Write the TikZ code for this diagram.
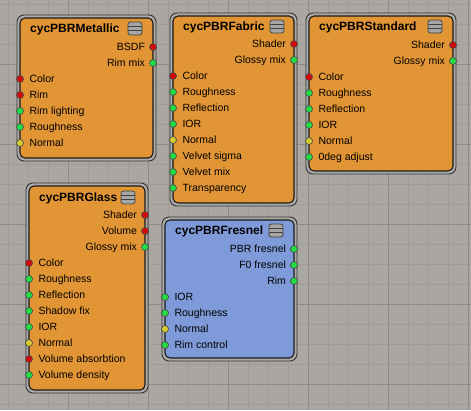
\documentclass[tikz,border=0pt]{standalone}
\usepackage{fontspec}
\setmainfont{Liberation Sans}
\usetikzlibrary{positioning}

\definecolor{canvas}{HTML}{AAA7A3}
\definecolor{minorline}{HTML}{9F9C98}
\definecolor{majorline}{HTML}{8E8B88}
\definecolor{shaderorange}{HTML}{E29535}
\definecolor{groupblue}{HTML}{7F9AD8}
\definecolor{rimgray}{HTML}{ADABA9}
\definecolor{sred}{HTML}{D40A0A}
\definecolor{sgreen}{HTML}{22DD44}
\definecolor{syellow}{HTML}{D8CC2C}

\begin{document}
\begin{tikzpicture}[
  x=1pt, y=-1pt,
  minor/.style={minorline, line width=0.8pt},
  major/.style={majorline, line width=0.9pt},
  frame/.style={draw=black!80, fill=rimgray, line width=0.9pt, rounded corners=7pt},
  panel/.style={draw=black!90, line width=1.1pt, rounded corners=5pt},
  title/.style={anchor=west, inner sep=0, text height=8.6pt, text depth=0pt, font=\fontsize{12}{12}\selectfont\bfseries},
  icon/.style={draw=black!75, fill=black!35, line width=0.8pt, rounded corners=2.5pt, minimum width=14pt, minimum height=13pt, inner sep=0,
    path picture={\draw[black!75, line width=0.8pt] ([yshift=-4.3pt]path picture bounding box.north west) -- ++(14pt,0pt)
                  ([yshift=4.3pt]path picture bounding box.south west) -- ++(14pt,0pt);}},
  sock/.style={circle, draw=black!70, line width=0.7pt, minimum size=7pt, inner sep=0},
  lbl/.style={inner sep=0, text height=7.5pt, text depth=0pt, font=\fontsize{10.5}{10.5}\selectfont}
]
\useasboundingbox (0,0) rectangle (471,410);
\fill[canvas] (0,0) rectangle (471,410);
\foreach \gx in {8,28,...,468} \draw[minor] (\gx,0) -- (\gx,410);
\foreach \gy in {4,24,...,404} \draw[minor] (0,\gy) -- (471,\gy);
\foreach \gx in {68,148,...,468} \draw[major] (\gx,0) -- (\gx,410);
\foreach \gy in {64,144,...,384} \draw[major] (0,\gy) -- (471,\gy);

% cycPBRMetallic
\draw[frame] (17,15) rectangle (156,161);
\draw[panel, fill=shaderorange] (20,18) rectangle (153,158);
\node[title] (metTitle) at (30,28) {cycPBRMetallic};
\node[icon] (metIcon) at (135,28.5) {};
\foreach \lab/\sc [count=\i] in {BSDF/sred, Rim mix/sgreen} {
  \node[sock, fill=\sc] (metOut\i) at (153,31+16*\i) {};
  \node[lbl, left=4pt of metOut\i] (metOutLbl\i) {\lab};
}
\foreach \lab/\sc [count=\i] in {Color/sred, Rim/sred, Rim lighting/sgreen, Roughness/sgreen, Normal/syellow} {
  \node[sock, fill=\sc] (metIn\i) at (20,63+16*\i) {};
  \node[lbl, right=5.5pt of metIn\i] (metInLbl\i) {\lab};
}

% cycPBRFabric
\draw[frame] (170,13) rectangle (297,206);
\draw[panel, fill=shaderorange] (173,16) rectangle (294,203);
\node[title] (fabTitle) at (183,26) {cycPBRFabric};
\node[icon] (fabIcon) at (277,26.5) {};
\foreach \lab/\sc [count=\i] in {Shader/sred, Glossy mix/sgreen} {
  \node[sock, fill=\sc] (fabOut\i) at (294,28+16*\i) {};
  \node[lbl, left=4pt of fabOut\i] (fabOutLbl\i) {\lab};
}
\foreach \lab/\sc [count=\i] in {Color/sred, Roughness/sgreen, Reflection/sgreen, IOR/sgreen, Normal/syellow, Velvet sigma/sgreen, Velvet mix/sgreen, Transparency/sgreen} {
  \node[sock, fill=\sc] (fabIn\i) at (173,60+16*\i) {};
  \node[lbl, right=5.5pt of fabIn\i] (fabInLbl\i) {\lab};
}

% cycPBRStandard
\draw[frame] (306,13) rectangle (456,174);
\draw[panel, fill=shaderorange] (309,16) rectangle (453,171);
\node[title] (stdTitle) at (319,26) {cycPBRStandard};
\node[icon] (stdIcon) at (435,26.5) {};
\foreach \lab/\sc [count=\i] in {Shader/sred, Glossy mix/sgreen} {
  \node[sock, fill=\sc] (stdOut\i) at (453,29+16*\i) {};
  \node[lbl, left=4pt of stdOut\i] (stdOutLbl\i) {\lab};
}
\foreach \lab/\sc [count=\i] in {Color/sred, Roughness/sgreen, Reflection/sgreen, IOR/sgreen, Normal/syellow, 0deg adjust/sgreen} {
  \node[sock, fill=\sc] (stdIn\i) at (309,61+16*\i) {};
  \node[lbl, right=5.5pt of stdIn\i] (stdInLbl\i) {\lab};
}

% cycPBRGlass
\draw[frame] (26,183) rectangle (148,393);
\draw[panel, fill=shaderorange] (29,186) rectangle (145,390);
\node[title] (glsTitle) at (39,197) {cycPBRGlass};
\node[icon] (glsIcon) at (128,197.5) {};
\foreach \lab/\sc [count=\i] in {Shader/sred, Volume/sred, Glossy mix/sgreen} {
  \node[sock, fill=\sc] (glsOut\i) at (145,199+16*\i) {};
  \node[lbl, left=4pt of glsOut\i] (glsOutLbl\i) {\lab};
}
\foreach \lab/\sc [count=\i] in {Color/sred, Roughness/sgreen, Reflection/sgreen, Shadow fix/sgreen, IOR/sgreen, Normal/syellow, Volume absorbtion/sred, Volume density/sgreen} {
  \node[sock, fill=\sc] (glsIn\i) at (29,247+16*\i) {};
  \node[lbl, right=5.5pt of glsIn\i] (glsInLbl\i) {\lab};
}

% cycPBRFresnel
\draw[frame] (162,217) rectangle (297,361);
\draw[panel, fill=groupblue] (165,220) rectangle (294,358);
\node[title] (frsTitle) at (175,230) {cycPBRFresnel};
\node[icon] (frsIcon) at (276,230.5) {};
\foreach \lab/\sc [count=\i] in {PBR fresnel/sgreen, F0 fresnel/sgreen, Rim/sgreen} {
  \node[sock, fill=\sc] (frsOut\i) at (294,233+16*\i) {};
  \node[lbl, left=4pt of frsOut\i] (frsOutLbl\i) {\lab};
}
\foreach \lab/\sc [count=\i] in {IOR/sgreen, Roughness/sgreen, Normal/syellow, Rim control/sgreen} {
  \node[sock, fill=\sc] (frsIn\i) at (165,281+16*\i) {};
  \node[lbl, right=5.5pt of frsIn\i] (frsInLbl\i) {\lab};
}
\end{tikzpicture}
\end{document}
